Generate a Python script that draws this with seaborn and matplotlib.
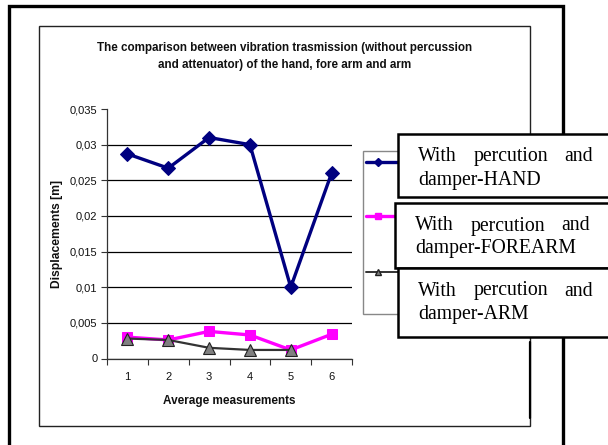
import numpy as np
import pandas as pd
import seaborn as sns
import matplotlib
matplotlib.use("Agg")
import matplotlib.pyplot as plt
from matplotlib.patches import Rectangle
from matplotlib.lines import Line2D

# ---- data ----
measurements = [1, 2, 3, 4, 5, 6]
hand = [0.0287, 0.0267, 0.0310, 0.0300, 0.0100, 0.0260]
forearm = [0.0030, 0.0026, 0.0038, 0.0033, 0.0012, 0.0034]
arm_x = [1, 2, 3, 4, 5]
arm = [0.0028, 0.0026, 0.0015, 0.0012, 0.0012]
yticks = [0, 0.005, 0.01, 0.015, 0.02, 0.025, 0.03, 0.035]
ytick_labels = ["0", "0,005", "0,01", "0,015", "0,02", "0,025", "0,03", "0,035"]
title = "The comparison between vibration trasmission (without percussion\nand attenuator) of the hand, fore arm and arm"
legend_labels = ["damper-HAND", "damper-FOREARM", "damper-ARM"]

sns.set_theme(style="white")
plt.rcParams["font.family"] = ["Liberation Sans", "DejaVu Sans"]

W, H = 608, 445
fig = plt.figure(figsize=(W / 100, H / 100), dpi=100)

def fx(x):
    return x / W

def fy(y):
    return 1 - y / H

# axes placement
ax = fig.add_axes([fx(107), fy(358.5), fx(352) - fx(107), fy(109) - fy(358.5)])

df_hand = pd.DataFrame({"x": measurements, "y": hand})
df_fore = pd.DataFrame({"x": measurements, "y": forearm})
df_arm = pd.DataFrame({"x": arm_x, "y": arm})

sns.lineplot(data=df_arm, x="x", y="y", ax=ax, color="#333333", linewidth=1.6,
             marker="^", markersize=9, markerfacecolor="#808080",
             markeredgecolor="#222222", markeredgewidth=0.8, zorder=3)
sns.lineplot(data=df_fore, x="x", y="y", ax=ax, color="#FF00FF", linewidth=2.4,
             marker="s", markersize=6.5, markerfacecolor="#FF00FF",
             markeredgecolor="#FF00FF", zorder=2)
sns.lineplot(data=df_hand, x="x", y="y", ax=ax, color="#000080", linewidth=2.4,
             marker="D", markersize=7, markerfacecolor="#000080",
             markeredgecolor="#000080", zorder=4)
ax.lines[0].set_zorder(3)

ax.set_xlim(0.5, 6.5)
ax.set_ylim(0, 0.035)
ax.set_yticks(yticks)
ax.set_yticklabels(ytick_labels)
ax.set_xticks(measurements)
ax.set_xticklabels([str(m) for m in measurements])
ax.set_xticks(np.arange(0.5, 7.0, 1.0), minor=True)
ax.tick_params(axis="x", which="major", length=0, pad=10, labelsize=8, colors="#111111")
ax.tick_params(axis="x", which="minor", length=4, width=0.8, direction="out", color="#333333", bottom=True)
ax.tick_params(axis="y", which="major", length=4, width=0.8, direction="out", pad=3,
               labelsize=8, colors="#333333", left=True)
for lab in ax.get_yticklabels() + ax.get_xticklabels():
    lab.set_color("#111111")

ax.yaxis.grid(True, color="#000000", linewidth=0.9)
gl = ax.get_ygridlines()
gl[-1].set_visible(False)
ax.set_axisbelow(True)
for s in ["top", "right"]:
    ax.spines[s].set_visible(False)
for s in ["left", "bottom"]:
    ax.spines[s].set_color("#333333")
    ax.spines[s].set_linewidth(0.9)

ax.set_xlabel("Average measurements", fontsize=8.5, fontweight="bold", labelpad=9, color="#111111")
ax.set_ylabel("Displacements [m]", fontsize=8.7, fontweight="bold", labelpad=5, color="#111111")

fig.text(fx(285), fy(56.5), title, ha="center", va="center", fontsize=8.4,
         fontweight="bold", color="#111111", linespacing=1.55)

# ---- frames ----
fig.add_artist(Rectangle((fx(9), fy(460)), fx(563) - fx(9), fy(6) - fy(460),
                         transform=fig.transFigure, fill=False, edgecolor="black",
                         linewidth=2.4, zorder=1))
fig.add_artist(Rectangle((fx(39), fy(426)), fx(530) - fx(39), fy(26) - fy(426),
                         transform=fig.transFigure, fill=False, edgecolor="#222222",
                         linewidth=1.0, zorder=1))

# Excel legend box (partially hidden)
fig.add_artist(Rectangle((fx(363), fy(314)), fx(640) - fx(363), fy(151) - fy(314),
                         transform=fig.transFigure, facecolor="white", edgecolor="#888888",
                         linewidth=1.0, zorder=5))
legend_styles = [
    (162, "#000080", "D", 2.4, 4.5, "#000080"),
    (216, "#FF00FF", "s", 2.4, 5, "#FF00FF"),
    (272, "#333333", "^", 1.4, 5, "#808080"),
]
for yy, col, mk, lw, ms, fc in legend_styles:
    fig.add_artist(Line2D([fx(366), fx(400)], [fy(yy), fy(yy)], transform=fig.transFigure,
                          color=col, linewidth=lw, zorder=6))
    fig.add_artist(Line2D([fx(378)], [fy(yy)], transform=fig.transFigure, color=col,
                          marker=mk, markersize=ms, markerfacecolor=fc,
                          markeredgecolor=col if mk != "^" else "#222222", zorder=6))

# overlaid text boxes
boxes = [(398, 134, 197), (395, 203, 268), (398, 268, 337)]
serif = ["Liberation Serif", "DejaVu Serif"]
fs = 14.2
for (x0, y0, y1), lab in zip(boxes, legend_labels):
    fig.add_artist(Rectangle((fx(x0), fy(y1)), fx(640) - fx(x0), fy(y0) - fy(y1),
                             transform=fig.transFigure, facecolor="white", edgecolor="black",
                             linewidth=1.8, zorder=7))
    tx = x0 + 20
    l1 = y0 + 23
    l2 = y0 + 46
    fig.text(fx(tx), fy(l1), "With", ha="left", va="center", fontsize=fs,
             family=serif, color="black", zorder=8)
    fig.text(fx(tx + 93), fy(l1), "percution", ha="center", va="center", fontsize=fs,
             family=serif, color="black", zorder=8)
    fig.text(fx(tx + 175), fy(l1), "and", ha="right", va="center", fontsize=fs,
             family=serif, color="black", zorder=8)
    fig.text(fx(tx), fy(l2), lab, ha="left", va="center", fontsize=fs,
             family=serif, color="black", zorder=8)

fig.add_artist(Line2D([fx(529.5), fx(529.5)], [fy(342), fy(418)], transform=fig.transFigure,
                      color="black", linewidth=1.6, zorder=2))
fig.add_artist(Line2D([fx(562.5), fx(562.5)], [fy(337), fy(445)], transform=fig.transFigure,
                      color="black", linewidth=1.8, zorder=2))

fig.savefig("out.png", dpi=100)
